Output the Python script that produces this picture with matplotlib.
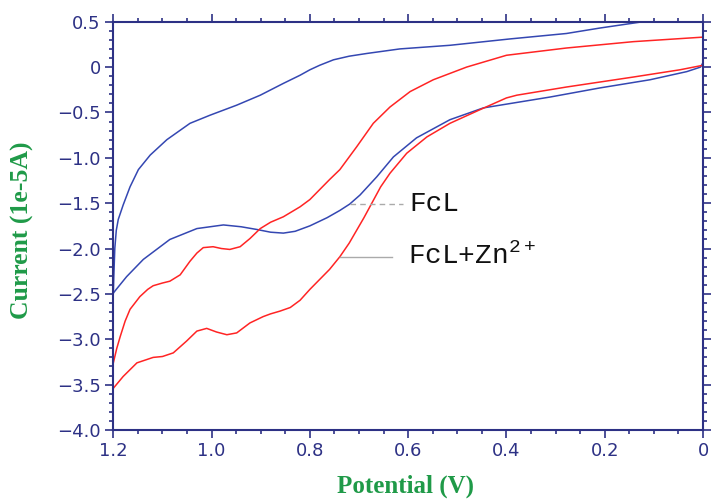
import matplotlib.pyplot as plt
from matplotlib.ticker import MultipleLocator

plt.rcParams["mathtext.default"] = "regular"

# FcL (blue) - upper branch, from 1.2 V towards 0 V
fcl_up_v = [1.200, 1.199, 1.197, 1.194, 1.190, 1.180, 1.166, 1.149, 1.125, 1.091,
            1.044, 1.003, 0.949, 0.901, 0.854, 0.820, 0.800, 0.780, 0.752, 0.720,
            0.684, 0.617, 0.515, 0.393, 0.278, 0.210, 0.122, 0.060]
fcl_up_i = [-2.49, -2.30, -2.00, -1.80, -1.68, -1.52, -1.32, -1.13, -0.97, -0.80,
            -0.62, -0.53, -0.42, -0.31, -0.18, -0.09, -0.03, 0.02, 0.08, 0.12,
            0.15, 0.20, 0.24, 0.31, 0.37, 0.43, 0.50, 0.56]
# FcL (blue) - lower branch, from 0 V back to 1.2 V
fcl_lo_v = [0.000, 0.005, 0.033, 0.108, 0.210, 0.311, 0.379, 0.447, 0.515, 0.583,
            0.630, 0.664, 0.698, 0.719, 0.739, 0.765, 0.800, 0.830, 0.854, 0.880,
            0.908, 0.940, 0.976, 1.030, 1.085, 1.139, 1.173, 1.200]
fcl_lo_i = [0.05, 0.00, -0.05, -0.14, -0.23, -0.33, -0.39, -0.45, -0.58, -0.78,
            -0.99, -1.21, -1.41, -1.51, -1.58, -1.66, -1.75, -1.81, -1.83, -1.82,
            -1.79, -1.76, -1.74, -1.78, -1.90, -2.12, -2.31, -2.49]

# FcL+Zn2+ (red) - upper branch
zn_up_v = [1.200, 1.193, 1.186, 1.176, 1.166, 1.146, 1.130, 1.119, 1.100, 1.085,
           1.064, 1.044, 1.030, 1.017, 0.997, 0.980, 0.963, 0.942, 0.922, 0.901,
           0.880, 0.854, 0.820, 0.800, 0.780, 0.760, 0.739, 0.705, 0.671, 0.637,
           0.596, 0.549, 0.481, 0.400, 0.278, 0.142, 0.000]
zn_up_i = [-3.26, -3.10, -2.97, -2.80, -2.67, -2.53, -2.45, -2.41, -2.38, -2.36,
           -2.29, -2.14, -2.05, -1.99, -1.98, -2.00, -2.01, -1.98, -1.89, -1.78,
           -1.71, -1.65, -1.54, -1.46, -1.35, -1.24, -1.13, -0.88, -0.62, -0.44,
           -0.27, -0.14, 0.00, 0.13, 0.21, 0.28, 0.33]
# FcL+Zn2+ (red) - lower branch
zn_lo_v = [0.000, 0.047, 0.142, 0.278, 0.379, 0.400, 0.454, 0.515, 0.562, 0.603,
           0.637, 0.656, 0.674, 0.690, 0.705, 0.720, 0.739, 0.760, 0.780, 0.800,
           0.820, 0.840, 0.861, 0.880, 0.895, 0.922, 0.949, 0.969, 0.990, 1.010,
           1.030, 1.051, 1.078, 1.100, 1.119, 1.152, 1.180, 1.200]
zn_lo_i = [0.02, -0.03, -0.11, -0.22, -0.31, -0.34, -0.47, -0.62, -0.77, -0.95,
           -1.17, -1.32, -1.50, -1.66, -1.80, -1.94, -2.09, -2.23, -2.34, -2.45,
           -2.57, -2.65, -2.69, -2.72, -2.75, -2.82, -2.93, -2.95, -2.92, -2.88,
           -2.91, -3.02, -3.15, -3.19, -3.20, -3.26, -3.41, -3.54]

x_ticks = [1.2, 1.0, 0.8, 0.6, 0.4, 0.2, 0.0]
x_tick_labels = ["1.2", "1.0", "0.8", "0.6", "0.4", "0.2", "0"]
y_ticks = [0.5, 0.0, -0.5, -1.0, -1.5, -2.0, -2.5, -3.0, -3.5, -4.0]
y_tick_labels = ["0.5", "0", "\u22120.5", "\u22121.0", "\u22121.5", "\u22122.0",
                 "\u22122.5", "\u22123.0", "\u22123.5", "\u22124.0"]

navy = "#2d3185"
green = "#1f9a48"
blue = "#3447b2"
red = "#ff2424"

fig = plt.figure(figsize=(7.11, 5.0), dpi=100)
ax = fig.add_axes([0.1594, 0.14, 0.8294, 0.8166])

ax.plot(fcl_up_v, fcl_up_i, color=blue, lw=1.1)
ax.plot(fcl_lo_v, fcl_lo_i, color=blue, lw=1.1)
ax.plot(zn_up_v, zn_up_i, color=red, lw=1.1)
ax.plot(zn_lo_v, zn_lo_i, color=red, lw=1.1)

ax.set_xlim(1.2, 0.0)
ax.set_ylim(-4.0, 0.5)

ax.set_xticks(x_ticks)
ax.set_xticklabels(x_tick_labels)
ax.set_yticks(y_ticks)
ax.set_yticklabels(y_tick_labels)
ax.xaxis.set_minor_locator(MultipleLocator(0.05))
ax.yaxis.set_minor_locator(MultipleLocator(0.1))

for s in ax.spines.values():
    s.set_color(navy)
    s.set_linewidth(1.5)
ax.tick_params(which="both", direction="out", color=navy, width=1.2,
               top=True, right=True, labelcolor=navy, labelsize=13)
ax.tick_params(which="major", length=6, pad=3)
ax.tick_params(which="minor", length=3)

# annotations
ax.plot([0.719, 0.611], [-1.508, -1.508], color="#aaaaaa", lw=1, ls=(0, (4, 3)))
ax.text(0.597, -1.508, "FcL", family="Liberation Mono", fontsize=20,
        ha="left", va="center", color="#111111")
ax.plot([0.739, 0.633], [-2.09, -2.09], color="#aaaaaa", lw=1)
ax.text(0.600, -2.09, "FcL+Zn$^{2+}$", family="Liberation Mono", fontsize=20,
        ha="left", va="center", color="#111111")

fig.text(0.571, 0.028, "Potential (V)", family="Liberation Serif", weight="bold",
         fontsize=18, color=green, ha="center", va="center")
fig.text(0.031, 0.54, "Current (1e-5A)", family="Liberation Serif", weight="bold",
         fontsize=18.5, color=green, ha="center", va="center", rotation=90)

fig.savefig("out.png", dpi=100)
